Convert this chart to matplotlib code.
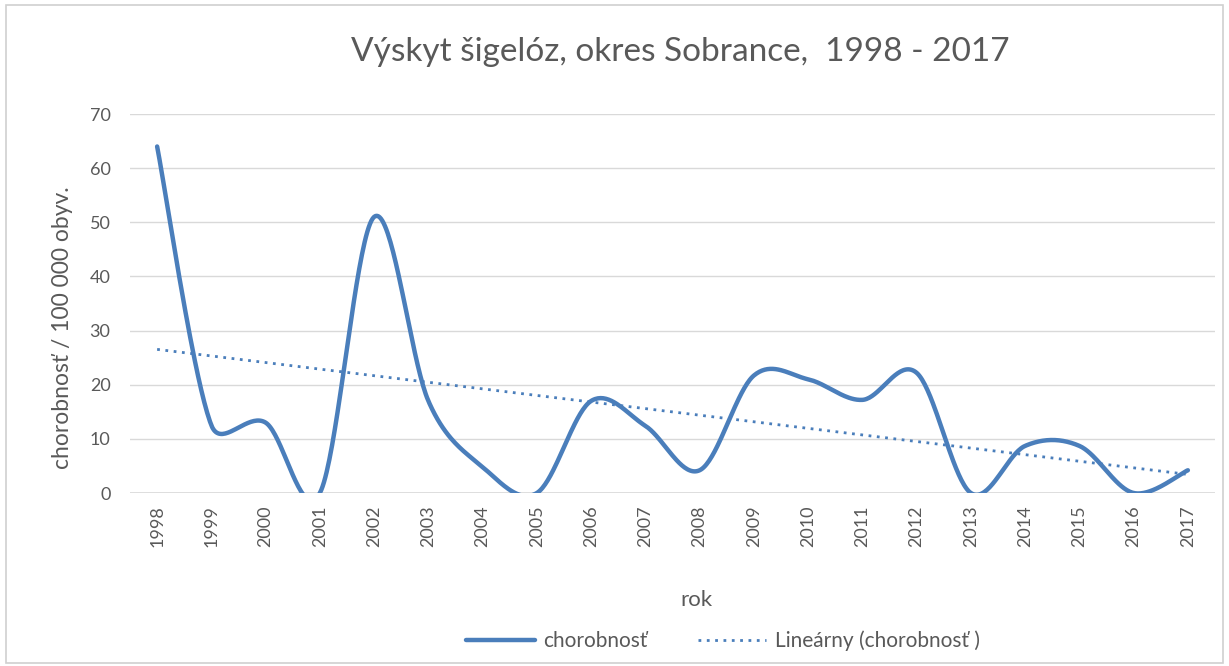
import matplotlib.pyplot as plt
from matplotlib.patches import Rectangle
import numpy as np

# data
years = ['1998', '1999', '2000', '2001', '2002', '2003', '2004', '2005', '2006', '2007',
         '2008', '2009', '2010', '2011', '2012', '2013', '2014', '2015', '2016', '2017']
values = [64.0, 12.5, 13.0, 0.0, 51.0, 17.0, 4.8, 0.0, 17.0, 12.4,
          4.2, 21.7, 21.0, 17.2, 22.2, 0.0, 8.7, 8.7, 0.0, 4.2]
y_ticks = [0, 10, 20, 30, 40, 50, 60, 70]

title = 'Výskyt šigelóz, okres Sobrance,  1998 - 2017'
y_label = 'chorobnosť / 100 000 obyv.'
x_label = 'rok'
series_name = 'chorobnosť'
trend_name = 'Lineárny (chorobnosť )'

BLUE = '#4a7ebb'
TEXT = '#595959'
GRID = '#d9d9d9'

W, H = 1229, 666
L, R, T, B = 130, 1215, 114, 493


def smooth(x, y, sx_px, sy_px, n=40):
    # Excel-like smoothed line: bezier with 1/6 tangents, arms capped at half the segment
    x = np.asarray(x, float)
    y = np.asarray(y, float)
    m = len(x)
    d = np.hypot(np.diff(x) * sx_px, np.diff(y) * sy_px)
    out_c, in_c = [], []
    for i in range(m):
        i0, i2 = max(i - 1, 0), min(i + 1, m - 1)
        tx, ty = (x[i2] - x[i0]) / 6, (y[i2] - y[i0]) / 6
        arm = np.hypot(tx * sx_px, ty * sy_px)
        fo = fi = 1.0
        if i < m - 1 and arm > 0.5 * d[i]:
            fo = 0.5 * d[i] / arm
        if i > 0 and arm > 0.5 * d[i - 1]:
            fi = 0.5 * d[i - 1] / arm
        out_c.append((x[i] + tx * fo, y[i] + ty * fo))
        in_c.append((x[i] - tx * fi, y[i] - ty * fi))
    xs, ys = [], []
    t = np.linspace(0, 1, n, endpoint=False)
    for i in range(m - 1):
        p1 = (x[i], y[i])
        b1 = out_c[i]
        b2 = in_c[i + 1]
        p2 = (x[i + 1], y[i + 1])
        for k, acc in ((0, xs), (1, ys)):
            acc.append((1 - t) ** 3 * p1[k] + 3 * (1 - t) ** 2 * t * b1[k]
                       + 3 * (1 - t) * t ** 2 * b2[k] + t ** 3 * p2[k])
    xs.append([x[-1]])
    ys.append([y[-1]])
    return np.concatenate(xs), np.concatenate(ys)


plt.rcParams['font.family'] = ['Lato', 'DejaVu Sans']

fig = plt.figure(figsize=(W / 100, H / 100), dpi=100)
ax = fig.add_axes([L / W, 1 - B / H, (R - L) / W, (B - T) / H])

xpos = np.arange(len(years))
px_per_x = (R - L) / len(years)
px_per_y = (B - T) / 70
sx, sy = smooth(xpos, values, px_per_x, px_per_y)
ax.plot(sx, sy, color=BLUE, lw=3.2, solid_capstyle='round', label=series_name, zorder=3)

k, b = np.polyfit(xpos, values, 1)
ax.plot(xpos, k * xpos + b, color=BLUE, lw=2, linestyle=(0, (1, 2)), label=trend_name, zorder=2)

ax.set_xlim(-0.5, len(years) - 0.5)
ax.set_ylim(0, 70)
ax.set_yticks(y_ticks)
ax.set_xticks(xpos)
ax.set_xticklabels(years, rotation=90)
ax.tick_params(axis='both', length=0, colors=TEXT, labelsize=13)
ax.tick_params(axis='y', pad=14)
ax.tick_params(axis='x', pad=9)
ax.grid(axis='y', color=GRID, lw=1)
ax.set_axisbelow(True)
for s in ax.spines.values():
    s.set_visible(False)
ax.axhline(0, color=GRID, lw=1.2, zorder=1)

fig.text(680 / W, 1 - 52 / H, title, ha='center', va='center', fontsize=24, color=TEXT)
fig.text(63 / W, 1 - 328 / H, y_label, rotation=90, ha='center', va='center',
         fontsize=16.5, color=TEXT)
fig.text(696 / W, 1 - 600 / H, x_label, ha='center', va='center', fontsize=16, color=TEXT)

fig.legend(loc='center', bbox_to_anchor=(723 / W, 1 - 641 / H), ncol=2, frameon=False,
           fontsize=15, labelcolor=TEXT, handlelength=3.3, columnspacing=2.4, handletextpad=0.4)

fig.patches.append(Rectangle((0.005, 0.005), 0.99, 0.988, transform=fig.transFigure,
                             fill=False, edgecolor='#d0d0d0', lw=1.2))

fig.savefig('out.png', dpi=100)
